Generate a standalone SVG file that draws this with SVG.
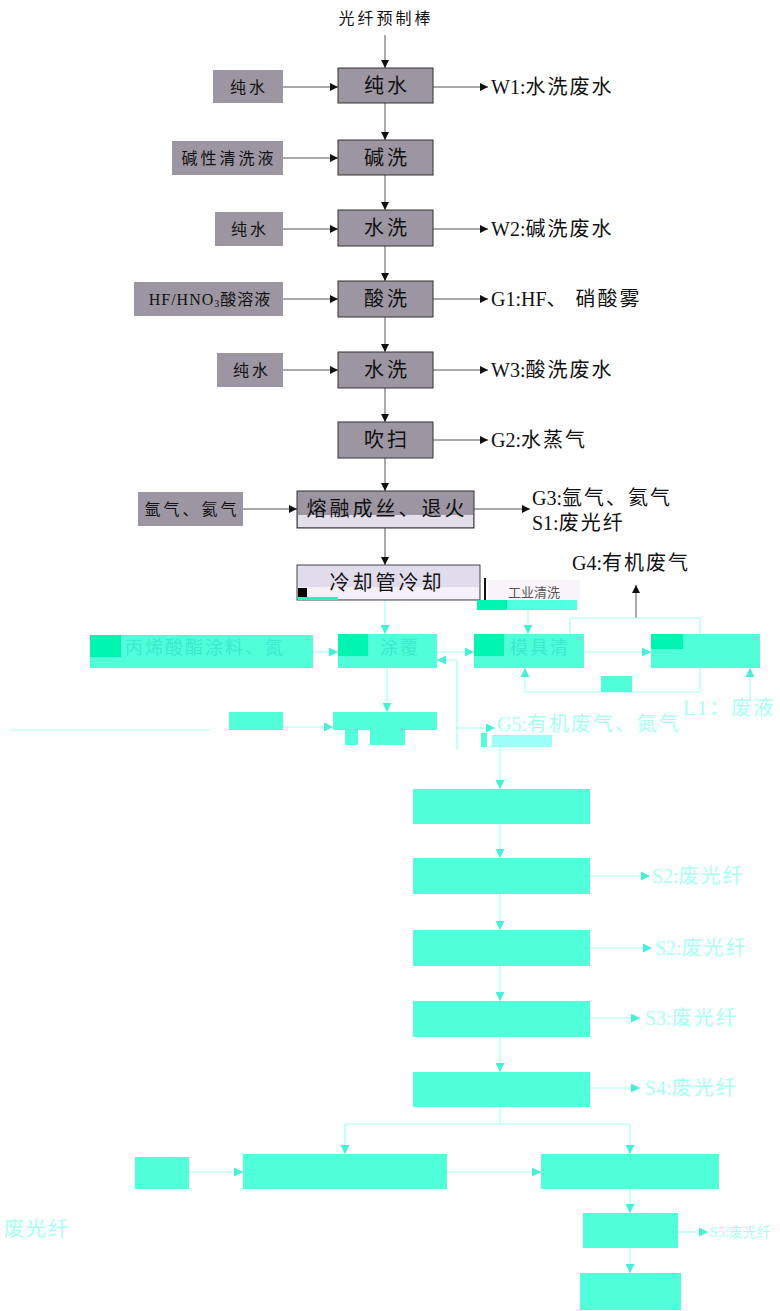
<svg xmlns="http://www.w3.org/2000/svg" width="780" height="1311" viewBox="0 0 780 1311">
<defs>
<marker id="ab" viewBox="0 0 10 10" refX="10" refY="5" markerWidth="8" markerHeight="8" markerUnits="userSpaceOnUse" orient="auto"><path d="M0,0 L10,5 L0,10 z" fill="#111"/></marker>
<marker id="ac" viewBox="0 0 10 10" refX="10" refY="5" markerWidth="9" markerHeight="9" markerUnits="userSpaceOnUse" orient="auto"><path d="M0,0 L10,5 L0,10 z" fill="#45f0d5"/></marker>
<style>
text{font-family:"Liberation Serif","Noto Sans CJK SC",serif;}
.g{fill:#9b96a1;stroke:#333;stroke-width:1;}
.gi{fill:#9b96a1;}
.t{font-size:20px;fill:#111;text-anchor:middle;dominant-baseline:central;letter-spacing:3px;}
.ti{font-size:16px;fill:#111;text-anchor:middle;dominant-baseline:central;letter-spacing:3px;}
.o{font-size:20px;fill:#111;dominant-baseline:central;letter-spacing:2px;}
.lb{stroke:#555;stroke-width:1;fill:none;marker-end:url(#ab);}
.c{fill:#50ffda;}
.lc{stroke:#a8fff6;stroke-width:1.2;fill:none;marker-end:url(#ac);}
.ln{stroke:#a8fff6;stroke-width:1.2;fill:none;}
.oc{font-size:20px;fill:#a8fff2;dominant-baseline:central;letter-spacing:2px;}
.tc{font-size:18px;fill:#3ee8cc;text-anchor:middle;dominant-baseline:central;letter-spacing:2px;}
.lat{letter-spacing:0;}
</style>
</defs>

<g id="connectors">
<path class="lb" d="M385,35 V68"/>
<path class="lb" d="M283,87 H338"/>
<path class="lb" d="M433,87 H488"/>
<path class="lb" d="M385,103 V140"/>
<path class="lb" d="M283,158 H338"/>
<path class="lb" d="M385,175 V210"/>
<path class="lb" d="M283,229 H338"/>
<path class="lb" d="M433,229 H488"/>
<path class="lb" d="M385,246 V281"/>
<path class="lb" d="M283,299 H338"/>
<path class="lb" d="M433,299 H488"/>
<path class="lb" d="M385,317 V352"/>
<path class="lb" d="M283,370 H338"/>
<path class="lb" d="M433,370 H488"/>
<path class="lb" d="M385,388 V422"/>
<path class="lb" d="M433,440 H488"/>
<path class="lb" d="M385,458 V491"/>
<path class="lb" d="M243,509 H297"/>
<path class="lb" d="M474,509 H530"/>
<path class="lb" d="M385,528 V565"/>
<path class="lb" d="M636,618 V585"/>

<path class="lc" d="M385,600 V634"/>
<path class="lc" d="M528,610 V634"/>
<path class="ln" d="M570,634 V618 H700 V634"/>
<path class="lc" d="M313,652 H338"/>
<path class="lc" d="M437,652 H474"/>
<path class="lc" d="M584,652 H651"/>
<path class="lc" d="M457,750 V660 H437"/>
<path class="ln" d="M700,668 V692 H525"/>
<path class="lc" d="M525,692 V668"/>
<path class="lc" d="M750,700 V668"/>
<path class="lc" d="M387,668 V712"/>
<path class="lc" d="M283,727 H333"/>
<path class="ln" d="M10,730 H210"/>
<path class="lc" d="M455,728 H495"/>
<path class="lc" d="M500,735 V789"/>
<path class="lc" d="M500,824 V858"/>
<path class="lc" d="M590,876 H650"/>
<path class="lc" d="M500,894 V930"/>
<path class="lc" d="M590,948 H652"/>
<path class="lc" d="M500,966 V1001"/>
<path class="lc" d="M590,1018 H640"/>
<path class="lc" d="M500,1037 V1072"/>
<path class="lc" d="M590,1088 H640"/>
<path class="ln" d="M500,1107 V1124"/>
<path class="lc" d="M345,1124 H630 M345,1124 V1154"/>
<path class="lc" d="M630,1124 V1154"/>
<path class="lc" d="M189,1172 H243"/>
<path class="lc" d="M447,1172 H541"/>
<path class="lc" d="M630,1189 V1213"/>
<path class="lc" d="M678,1232 H708"/>
<path class="lc" d="M630,1248 V1273"/>
</g>

<g id="n-start"><text x="386" y="18" class="ti">光纤预制棒</text></g>
<g id="n-in1"><rect x="213" y="70" width="70" height="33" class="gi"/><text x="249" y="87" class="ti">纯水</text></g>
<g id="n-p1"><rect x="338" y="68" width="95" height="35" class="g"/><text x="387" y="86" class="t">纯水</text></g>
<g id="n-o1"><text x="491" y="87" class="o"><tspan class="lat">W1:</tspan>水洗废水</text></g>
<g id="n-in2"><rect x="172" y="141" width="111" height="34" class="gi"/><text x="229" y="158" class="ti">碱性清洗液</text></g>
<g id="n-p2"><rect x="338" y="140" width="95" height="35" class="g"/><text x="387" y="158" class="t">碱洗</text></g>
<g id="n-in3"><rect x="215" y="212" width="68" height="34" class="gi"/><text x="250" y="229" class="ti">纯水</text></g>
<g id="n-p3"><rect x="338" y="210" width="95" height="36" class="g"/><text x="387" y="228" class="t">水洗</text></g>
<g id="n-o3"><text x="491" y="229" class="o"><tspan class="lat">W2:</tspan>碱洗废水</text></g>
<g id="n-in4"><rect x="134" y="282" width="149" height="34" class="gi"/><text x="210" y="299" class="ti" style="letter-spacing:1px">HF/HNO<tspan style="font-size:10px" dy="4">3</tspan><tspan dy="-4">酸溶液</tspan></text></g>
<g id="n-p4"><rect x="338" y="281" width="95" height="36" class="g"/><text x="387" y="299" class="t">酸洗</text></g>
<g id="n-o4"><text x="491" y="299" class="o"><tspan class="lat">G1:HF</tspan>、 硝酸雾</text></g>
<g id="n-in5"><rect x="217" y="353" width="66" height="34" class="gi"/><text x="252" y="370" class="ti">纯水</text></g>
<g id="n-p5"><rect x="338" y="352" width="95" height="36" class="g"/><text x="387" y="370" class="t">水洗</text></g>
<g id="n-o5"><text x="491" y="370" class="o"><tspan class="lat">W3:</tspan>酸洗废水</text></g>
<g id="n-p6"><rect x="338" y="422" width="95" height="36" class="g"/><text x="387" y="440" class="t">吹扫</text></g>
<g id="n-o6"><text x="491" y="440" class="o"><tspan class="lat">G2:</tspan>水蒸气</text></g>
<g id="n-in7"><rect x="138" y="492" width="105" height="34" class="gi"/><text x="192" y="509" class="ti">氩气、氦气</text></g>
<g id="n-p7"><rect x="297" y="491" width="177" height="37" class="g"/><rect x="298" y="515" width="175" height="12" fill="#e2deea"/><text x="387" y="509" class="t">熔融成丝、退火</text></g>
<g id="n-o7"><text x="532" y="498" class="o"><tspan class="lat">G3:</tspan>氩气、氦气</text><text x="532" y="523" class="o"><tspan class="lat">S1:</tspan>废光纤</text></g>
<g id="n-p8"><rect x="297" y="565" width="183" height="35" fill="#e0dcec" stroke="#444" stroke-width="1"/><rect x="298" y="587" width="181" height="12" fill="#f6f0f8"/><rect x="298" y="588" width="9" height="9" fill="#000"/><rect x="298" y="597" width="40" height="3" fill="#30f0c0"/><text x="387" y="583" class="t">冷却管冷却</text></g>
<g id="n-p8b"><rect x="484" y="578" width="2" height="22" fill="#111"/><rect x="488" y="580" width="92" height="20" fill="#f8f4fa"/><rect x="477" y="600" width="100" height="10" fill="#4fffe0"/><rect x="477" y="600" width="30" height="10" fill="#00f5b0"/><text x="534" y="592" font-size="13" fill="#555" text-anchor="middle" dominant-baseline="central">工业清洗</text></g>
<g id="n-o8"><text x="572" y="563" class="o"><tspan class="lat">G4:</tspan>有机废气</text></g>

<g id="n-c1"><rect x="90" y="635" width="223" height="33" class="c"/><rect x="90" y="635" width="31" height="22" fill="#00f5b0"/><text x="205" y="648" class="tc">丙烯酸酯涂料、氮</text></g>
<g id="n-c2"><rect x="338" y="634" width="99" height="34" class="c"/><rect x="338" y="634" width="30" height="22" fill="#00f5b0"/><text x="400" y="648" class="tc">涂覆</text></g>
<g id="n-c3"><rect x="474" y="634" width="110" height="34" class="c"/><rect x="474" y="634" width="30" height="22" fill="#00f5b0"/><text x="540" y="648" class="tc">模具清</text></g>
<g id="n-c4"><rect x="651" y="634" width="109" height="34" class="c"/><rect x="651" y="634" width="32" height="15" fill="#00f5b0"/></g>
<g id="n-c5"><rect x="601" y="676" width="31" height="16" class="c"/></g>
<g id="n-o9"><text x="683" y="708" class="oc">L1：废液</text></g>
<g id="n-c6"><rect x="229" y="712" width="54" height="18" class="c"/></g>
<g id="n-c7"><rect x="333" y="712" width="104" height="18" class="c"/><rect x="345" y="730" width="13" height="15" class="c"/><rect x="370" y="730" width="35" height="15" class="c"/></g>
<g id="n-o10"><rect x="481" y="733" width="6" height="14" class="c"/><rect x="492" y="735" width="60" height="12" fill="#9cfff8"/><text x="497" y="724" class="oc"><tspan class="lat">G5:</tspan>有机废气、氮气</text></g>
<g id="n-d1"><rect x="413" y="789" width="177" height="35" class="c"/></g>
<g id="n-d2"><rect x="413" y="858" width="177" height="36" class="c"/></g>
<g id="n-o11"><text x="652" y="876" class="oc"><tspan class="lat">S2:</tspan>废光纤</text></g>
<g id="n-d3"><rect x="413" y="930" width="177" height="36" class="c"/></g>
<g id="n-o12"><text x="655" y="948" class="oc"><tspan class="lat">S2:</tspan>废光纤</text></g>
<g id="n-d4"><rect x="413" y="1001" width="177" height="36" class="c"/></g>
<g id="n-o13"><text x="645" y="1018" class="oc"><tspan class="lat">S3:</tspan>废光纤</text></g>
<g id="n-d5"><rect x="413" y="1072" width="177" height="35" class="c"/></g>
<g id="n-o14"><text x="645" y="1088" class="oc"><tspan class="lat">S4:</tspan>废光纤</text></g>
<g id="n-e0"><rect x="135" y="1157" width="54" height="32" class="c"/></g>
<g id="n-e1"><rect x="243" y="1154" width="204" height="35" class="c"/></g>
<g id="n-e2"><rect x="541" y="1154" width="178" height="35" class="c"/></g>
<g id="n-o15"><text x="4" y="1229" class="oc">废光纤</text></g>
<g id="n-e3"><rect x="583" y="1213" width="95" height="35" class="c"/></g>
<g id="n-o16"><text x="710" y="1232" class="oc" style="font-size:14px;letter-spacing:0">S5:废光纤</text></g>
<g id="n-e4"><rect x="580" y="1273" width="101" height="37" class="c"/></g>
</svg>
